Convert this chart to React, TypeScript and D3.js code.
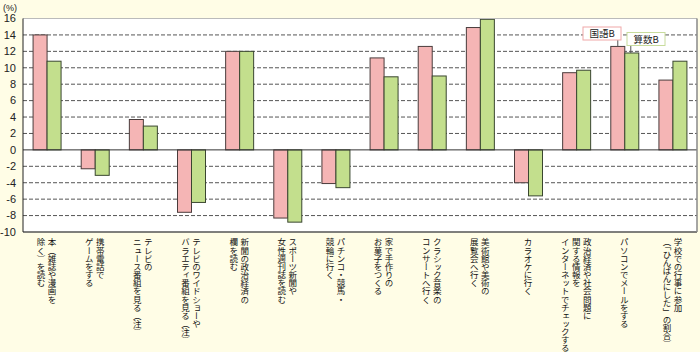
import * as d3 from "d3";

const categories = [
  ["本（雑誌や漫画を", "除く）を読む"],
  ["携帯電話で", "ゲームをする"],
  ["テレビの", "ニュース番組を見る（注）"],
  ["テレビのワイドショーや", "バラエティ番組を見る（注）"],
  ["新聞の政治経済の", "欄を読む"],
  ["スポーツ新聞や", "女性週刊誌を読む"],
  ["パチンコ・競馬・", "競輪に行く"],
  ["家で手作りの", "お菓子をつくる"],
  ["クラシック音楽の", "コンサートへ行く"],
  ["美術館や美術の", "展覧会へ行く"],
  ["カラオケに行く"],
  ["政治経済や社会問題に", "関する情報を", "インターネットでチェックする"],
  ["パソコンでメールをする"],
  ["学校での行事に参加", "（「ひんぱんにした」の割合）"],
];

const kokugoB = [14.0, -2.3, 3.7, -7.6, 12.0, -8.3, -4.1, 11.2, 12.6, 14.9, -4.0, 9.4, 12.6, 8.5];
const sansuB = [10.8, -3.1, 2.9, -6.4, 12.0, -8.8, -4.6, 8.9, 9.0, 15.9, -5.6, 9.7, 11.8, 10.8];

const yTicks = [-10, -8, -6, -4, -2, 0, 2, 4, 6, 8, 10, 12, 14, 16];

const W = 700;
const H = 352;
const left = 23;
const right = 697;
const top = 18.5;
const bottom = 232;

const jp = '"Noto Sans CJK JP", sans-serif';

export default function App() {
  const ids = categories.map((_, i) => String(i));
  const x = d3.scaleBand().domain(ids).range([left, right]);
  const y = d3.scaleLinear().domain([-10, 16]).range([bottom, top]);
  const bw = 14;

  const hi = 12; // index of the labelled pair
  const cx = (i: number) => (x(String(i)) as number) + x.bandwidth() / 2;

  return (
    <svg
      width={W}
      height={H}
      style={{ position: "fixed", left: 0, top: 0, background: "#fffde6" }}
    >
      <rect x={0} y={0} width={W} height={H} fill="#fffde6" />
      <rect x={left} y={top} width={right - left} height={bottom - top} fill="#fff" />

      {yTicks
        .filter((t) => t !== 0 && t !== 16 && t !== -10)
        .map((t) => (
          <line
            key={t}
            x1={left}
            x2={right}
            y1={y(t)}
            y2={y(t)}
            stroke="#555"
            strokeDasharray="4,2"
          />
        ))}

      {ids.map((id, i) => {
        const c = cx(i);
        const k = kokugoB[i];
        const s = sansuB[i];
        return (
          <g key={id}>
            <rect
              x={c - bw}
              y={y(Math.max(0, k))}
              width={bw}
              height={Math.abs(y(k) - y(0))}
              fill="#f5b5b5"
              stroke="#4a3c3c"
            />
            <rect
              x={c}
              y={y(Math.max(0, s))}
              width={bw}
              height={Math.abs(y(s) - y(0))}
              fill="#c3df8d"
              stroke="#3a4630"
            />
          </g>
        );
      })}

      <line x1={left} x2={right} y1={y(0)} y2={y(0)} stroke="#333" />
      <line x1={left} x2={right} y1={top} y2={top} stroke="#bbb" />
      <line x1={left} x2={right} y1={bottom} y2={bottom} stroke="#555" strokeWidth={1.5} />
      <line x1={right} x2={right} y1={top} y2={bottom} stroke="#888" strokeWidth={1.5} />
      <line x1={left} x2={left} y1={top} y2={bottom} stroke="#222" />

      {yTicks.map((t) => (
        <text
          key={t}
          x={16}
          y={y(t)}
          dy="0.35em"
          textAnchor="end"
          fontSize={11}
          fontFamily='"Liberation Sans", sans-serif'
          fill="#222"
        >
          {t}
        </text>
      ))}
      <text x={3} y={10.5} fontSize={9} fontFamily='"Liberation Sans", sans-serif' fill="#222">
        (%)
      </text>

      {categories.map((lines, i) => {
        const c = cx(i);
        const n = lines.length;
        return lines.map((ln, j) => (
          <text
            key={i + "-" + j}
            x={c + ((n - 1) / 2 - j) * 11 - 0.5}
            y={238}
            fontSize={8.5}
            letterSpacing={-0.35}
            fontFamily={jp}
            fill="#111"
            style={{ writingMode: "vertical-rl" }}
          >
            {ln}
          </text>
        ));
      })}

      {/* labels pointing at the PC mail pair */}
      <line
        x1={cx(hi) - 7}
        x2={cx(hi) - 7}
        y1={40}
        y2={y(kokugoB[hi])}
        stroke="#555"
      />
      <rect x={583} y={27} width={38} height={13} fill="#fff" stroke="#f0a8a8" />
      <text x={602} y={37} textAnchor="middle" fontSize={9.5} fontFamily={jp} fill="#222">
        国語B
      </text>
      <line
        x1={cx(hi) + 6}
        x2={cx(hi) + 6}
        y1={46}
        y2={y(sansuB[hi])}
        stroke="#555"
      />
      <rect x={627} y={32.5} width={38} height={13} fill="#fff" stroke="#c8dc9c" />
      <text x={646} y={42.5} textAnchor="middle" fontSize={9.5} fontFamily={jp} fill="#222">
        算数B
      </text>
    </svg>
  );
}
